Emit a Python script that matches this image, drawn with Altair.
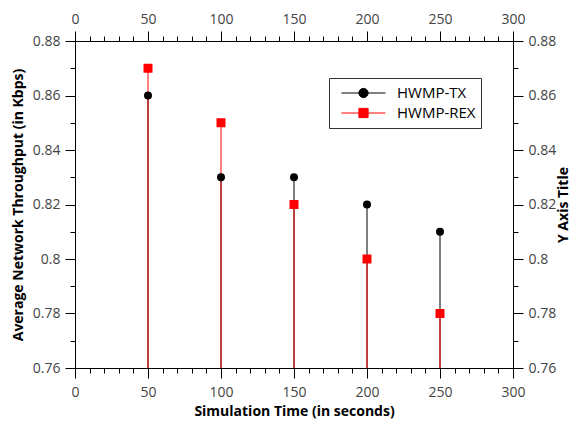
import altair as alt
import pandas as pd

times = [50, 100, 150, 200, 250]
tx_values = [0.86, 0.83, 0.83, 0.82, 0.81]
rex_values = [0.87, 0.85, 0.82, 0.80, 0.78]
series_names = ["HWMP-TX", "HWMP-REX"]
series_colors = ["black", "red"]

x_major = [0, 50, 100, 150, 200, 250, 300]
x_minor = [0, 10, 20, 30, 40, 50, 60, 70, 80, 90, 100, 110, 120, 130, 140, 150,
           160, 170, 180, 190, 200, 210, 220, 230, 240, 250, 260, 270, 280, 290, 300]
y_major = [0.76, 0.78, 0.80, 0.82, 0.84, 0.86, 0.88]
y_minor = [0.76, 0.77, 0.78, 0.79, 0.80, 0.81, 0.82, 0.83, 0.84, 0.85, 0.86, 0.87, 0.88]

tx = pd.DataFrame({"time": times, "value": tx_values, "series": series_names[0]})
rex = pd.DataFrame({"time": times, "value": rex_values, "series": series_names[1]})
df = pd.concat([tx, rex], ignore_index=True)

FONT = "Open Sans"
xs = alt.Scale(domain=[0, 300], nice=False, zero=False)
ys = alt.Scale(domain=[0.76, 0.88], nice=False, zero=False)

common_axis = dict(grid=False, domainColor="black", tickColor="black", labelFont=FONT,
                   labelFontSize=14, labelColor="#444444", titleFont=FONT,
                   titleFontSize=14, titleFontWeight="bold", titleColor="black",
                   tickWidth=1, domainWidth=1, labelFlush=False, labelOverlap=False)


def major_x(orient, title, label_pad, title_pad):
    return alt.Axis(orient=orient, values=x_major, tickSize=10, labelPadding=label_pad,
                    title=title, titlePadding=title_pad, **common_axis)


def minor_x(orient):
    return alt.Axis(orient=orient, values=x_minor, tickSize=5, labels=False,
                    domain=False, title=None, grid=False, tickColor="black")


def major_y(orient, title, title_pad):
    return alt.Axis(orient=orient, values=y_major, tickSize=10, labelPadding=5,
                    format="~g", title=title, titlePadding=title_pad, titleAngle=-90,
                    **common_axis)


def minor_y(orient):
    return alt.Axis(orient=orient, values=y_minor, tickSize=5, labels=False,
                    domain=False, title=None, grid=False, tickColor="black")


base = alt.Chart(df)

stems_tx = base.transform_filter(alt.datum.series == series_names[0]).mark_rule(
    color="black", strokeWidth=1).encode(
    x=alt.X("time:Q", scale=xs, axis=major_x("bottom", "Simulation Time (in seconds)", 7, 5)),
    y=alt.Y("value:Q", scale=ys, axis=major_y("left", "Average Network Throughput (in Kbps)", 7)),
    y2=alt.datum(0.76),
)

stems_rex = base.transform_filter(alt.datum.series == series_names[1]).mark_rule(
    color="red", strokeWidth=1).encode(
    x=alt.X("time:Q", scale=xs, axis=major_x("top", None, 5, 4)),
    y=alt.Y("value:Q", scale=ys, axis=major_y("right", "Y Axis Title", 15)),
    y2=alt.datum(0.76),
)

pts_tx = base.transform_filter(alt.datum.series == series_names[0]).mark_point(
    shape="circle", filled=True, color="black", size=64, opacity=1).encode(
    x=alt.X("time:Q", scale=xs, axis=minor_x("bottom")),
    y=alt.Y("value:Q", scale=ys, axis=minor_y("left")),
)

pts_rex = base.transform_filter(alt.datum.series == series_names[1]).mark_point(
    shape="square", filled=True, color="red", size=81, opacity=1).encode(
    x=alt.X("time:Q", scale=xs, axis=minor_x("top")),
    y=alt.Y("value:Q", scale=ys, axis=minor_y("right")),
)

sym_tx = "M-1,0L1,0M-0.21,0A0.21,0.21,0,1,1,0.21,0A0.21,0.21,0,1,1,-0.21,0Z"
sym_rex = "M-1,0L1,0M-0.21,-0.21L0.21,-0.21L0.21,0.21L-0.21,0.21Z"

leg = alt.Legend(title=None, orient="none", legendX=254, legendY=37,
                 strokeColor="#333333", fillColor="white", padding=5,
                 labelFont=FONT, labelFontSize=15, labelColor="black",
                 symbolSize=1936, symbolStrokeWidth=1, symbolOffset=7,
                 labelOffset=11, clipHeight=20, rowPadding=0,
                 labelExpr="datum.label + '\u00a0\u00a0\u00a0'")

legend_layer = base.transform_filter("false").mark_point(filled=True, size=1936, strokeWidth=1, opacity=1).encode(
    shape=alt.Shape("series:N", scale=alt.Scale(domain=series_names, range=[sym_tx, sym_rex]), legend=leg),
    fill=alt.Fill("series:N", scale=alt.Scale(domain=series_names, range=series_colors), legend=leg),
    stroke=alt.Stroke("series:N", scale=alt.Scale(domain=series_names, range=series_colors), legend=leg),
)

chart = alt.layer(stems_tx, stems_rex, pts_tx, pts_rex, legend_layer).resolve_axis(
    x="independent", y="independent"
).properties(
    width=438, height=327, autosize="none",
    padding={"left": 67, "top": 33, "right": 58, "bottom": 51},
    background="white",
).configure_view(stroke="black", strokeWidth=1)

chart.save("out.html", embed_options={"renderer": "svg", "actions": False})
